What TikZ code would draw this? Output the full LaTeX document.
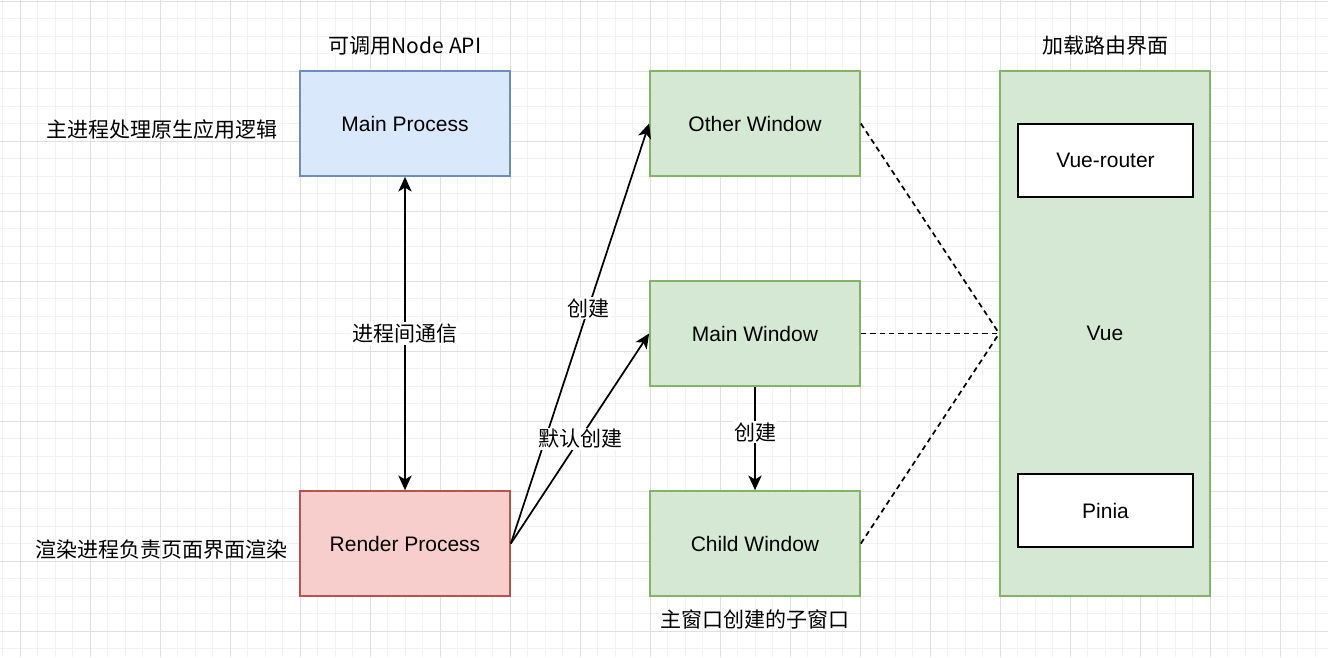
\documentclass[tikz,border=0pt]{standalone}
\usepackage{fontspec}
\setmainfont{Liberation Sans}
\newfontfamily\cjk{Noto Sans CJK SC}
\usepackage{tikz}
\usetikzlibrary{arrows.meta}

\definecolor{gridminor}{RGB}{242,242,242}
\definecolor{gridmajor}{RGB}{224,224,224}
\definecolor{blueFill}{RGB}{218,232,252}
\definecolor{blueLine}{RGB}{108,142,191}
\definecolor{redFill}{RGB}{248,206,204}
\definecolor{redLine}{RGB}{184,84,80}
\definecolor{greenFill}{RGB}{213,232,212}
\definecolor{greenLine}{RGB}{130,179,102}

\begin{document}
\begin{tikzpicture}[x=0.75pt,y=0.75pt,yscale=-1,xscale=1,
  txt/.style={font=\fontsize{15.75}{19}\selectfont, inner sep=0.75pt},
  procbox/.style={txt, draw, line width=1.3pt, minimum width=157.5pt, minimum height=78.75pt},
  innerbox/.style={txt, draw=black, fill=white, line width=1.3pt, minimum width=131.25pt, minimum height=54.75pt},
  arr/.style={line width=1.3pt, -{Stealth[length=11pt,width=10pt,inset=3pt]}},
  dash line/.style={line width=1.3pt, dash pattern=on 4pt off 3pt},
  edgelabel/.style={txt, fill=white, inner sep=1pt}]
\useasboundingbox (0,0) rectangle (1337,657);
\fill[white] (0,0) rectangle (1337,657);

%Grid
\foreach \k in {0,...,75} {
  \draw[gridminor, line width=0.75pt] ({2.5+17.5*\k},0) -- ({2.5+17.5*\k},657);
}
\foreach \k in {0,...,37} {
  \draw[gridminor, line width=0.75pt] (0,{1+17.5*\k}) -- (1328,{1+17.5*\k});
}
\foreach \k in {0,...,18} {
  \draw[gridmajor, line width=0.75pt] ({20+70*\k},0) -- ({20+70*\k},657);
}
\foreach \k in {0,...,9} {
  \draw[gridmajor, line width=0.75pt] (0,{1+70*\k}) -- (1328,{1+70*\k});
}

%Process boxes
\node [procbox, fill=blueFill, draw=blueLine] (mainproc) at (405,123.5) {Main Process};
\node [procbox, fill=redFill, draw=redLine] (renderproc) at (405,543.5) {Render Process};

%Window boxes
\node [procbox, fill=greenFill, draw=greenLine] (otherwin) at (755,123.5) {Other Window};
\node [procbox, fill=greenFill, draw=greenLine] (mainwin) at (755,333.5) {Main Window};
\node [procbox, fill=greenFill, draw=greenLine] (childwin) at (755,543.5) {Child Window};

%Vue container
\node [procbox, fill=greenFill, draw=greenLine, minimum height=393.75pt] (vue) at (1105,333.5) {Vue};
\node [innerbox] (router) at (1105.5,160.5) {Vue-router};
\node [innerbox] (pinia) at (1105.5,510.5) {Pinia};

% Text Node
\node [txt] (apilabel) at (405,46) {\cjk 可调用Node API};
% Text Node
\node [txt] (mainlabel) at (161.5,130) {\cjk 主进程处理原生应用逻辑};
% Text Node
\node [txt] (renderlabel) at (161,550) {\cjk 渲染进程负责页面界面渲染};
% Text Node
\node [txt] (childlabel) at (755,619) {\cjk 主窗口创建的子窗口};
% Text Node
\node [txt] (vuelabel) at (1105,46) {\cjk 加载路由界面};

%Arrows
\draw [arr, {Stealth[length=11pt,width=10pt,inset=3pt]}-{Stealth[length=11pt,width=10pt,inset=3pt]}] (mainproc.south) -- (renderproc.north) node [edgelabel, midway] {\cjk 进程间通信};
\draw [arr] (renderproc.east) -- (otherwin.west) node [edgelabel, pos=0.56] {\cjk 创建};
\draw [arr] (renderproc.east) -- (mainwin.west) node [edgelabel, pos=0.5] {\cjk 默认创建};
\draw [arr] (mainwin.south) -- (childwin.north) node [edgelabel, pos=0.44] {\cjk 创建};

%Dashed links
\draw [dash line] (otherwin.east) -- (vue.west);
\draw [dash line] (mainwin.east) -- (vue.west);
\draw [dash line] (childwin.east) -- (vue.west);

\end{tikzpicture}
\end{document}
